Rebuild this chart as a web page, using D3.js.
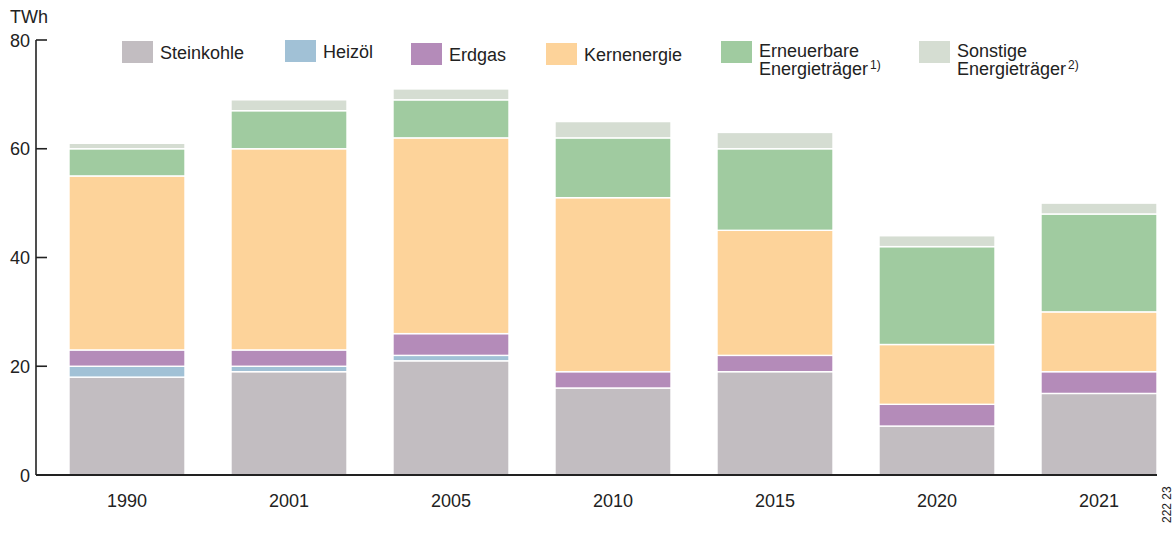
<!DOCTYPE html>
<html>
<head>
<meta charset="utf-8">
<script src="https://cdn.jsdelivr.net/npm/d3@7"></script>
<style>
  body { margin: 0; background: #fff; }
  text { font-family: "Liberation Sans", Arial, sans-serif; fill: #222; }
</style>
</head>
<body>
<div class="chart"></div>
<script>
// data
var years = ["1990", "2001", "2005", "2010", "2015", "2020", "2021"];
var carriers = ["Steinkohle", "Heizöl", "Erdgas", "Kernenergie", "Erneuerbare", "Sonstige"];
var steinkohle = [18, 19, 21, 16, 19, 9, 15];
var heizoel = [2, 1, 1, 0, 0, 0, 0];
var erdgas = [3, 3, 4, 3, 3, 4, 4];
var kernenergie = [32, 37, 36, 32, 23, 11, 11];
var erneuerbare = [5, 7, 7, 11, 15, 18, 18];
var sonstige = [1, 2, 2, 3, 3, 2, 2];
var yTicks = [0, 20, 40, 60, 80];
var colors = ["#c2bdc1", "#a1c1d6", "#b48bb9", "#fdd39a", "#a0cba0", "#d5ddd2"];

const mainGraphic = () => {
    var width = 1174,
        height = 534;

    var margin = { top: 40, right: 17, bottom: 59, left: 36 };

    var svg = d3.select(".chart")
        .append("svg")
        .attr("width", width)
        .attr("height", height);

    var table = years.map(function(y, i) {
        return {
            year: y,
            Steinkohle: steinkohle[i],
            "Heizöl": heizoel[i],
            Erdgas: erdgas[i],
            Kernenergie: kernenergie[i],
            Erneuerbare: erneuerbare[i],
            Sonstige: sonstige[i]
        };
    });

    var series = d3.stack().keys(carriers)(table);

    var x = d3.scaleBand()
        .domain(years)
        .range([69, 1157])
        .paddingInner(0.284)
        .paddingOuter(0);

    var y = d3.scaleLinear()
        .domain([0, 80])
        .range([height - margin.bottom, margin.top]);

    var color = d3.scaleOrdinal()
        .domain(carriers)
        .range(colors);

    // bars
    svg.append("g")
        .selectAll("g")
        .data(series)
        .enter().append("g")
        .attr("fill", function(d) { return color(d.key); })
        .selectAll("rect")
        .data(function(d) { return d.filter(function(e) { return e[1] - e[0] > 0; }); })
        .enter().append("rect")
        .attr("x", function(d) { return x(d.data.year); })
        .attr("y", function(d) { return y(d[1]); })
        .attr("width", x.bandwidth())
        .attr("height", function(d) { return y(d[0]) - y(d[1]); })
        .style("stroke", "#fff")
        .style("stroke-width", 1.4);

    // y axis
    var yAxis = svg.append("g")
        .attr("transform", "translate(" + margin.left + ",0)");
    yAxis.append("line")
        .attr("y1", y(80)).attr("y2", y(0))
        .attr("stroke", "#222").attr("stroke-width", 1.6);
    yAxis.selectAll(".tick")
        .data(yTicks)
        .enter().append("line")
        .attr("x1", 0).attr("x2", 11)
        .attr("y1", function(d) { return y(d); })
        .attr("y2", function(d) { return y(d); })
        .attr("stroke", "#222").attr("stroke-width", 1.6);
    yAxis.selectAll(".lbl")
        .data(yTicks)
        .enter().append("text")
        .attr("x", -6)
        .attr("y", function(d) { return y(d) + 6.5; })
        .attr("text-anchor", "end")
        .style("font-size", "18px")
        .text(function(d) { return d; });

    svg.append("text")
        .attr("x", 10).attr("y", 23)
        .style("font-size", "18px")
        .text("TWh");

    // x axis
    svg.append("line")
        .attr("x1", margin.left).attr("x2", 1157)
        .attr("y1", y(0)).attr("y2", y(0))
        .attr("stroke", "#222").attr("stroke-width", 2);

    svg.selectAll(".xlbl")
        .data(years)
        .enter().append("text")
        .attr("x", function(d) { return x(d) + x.bandwidth() / 2; })
        .attr("y", 507)
        .attr("text-anchor", "middle")
        .style("font-size", "18px")
        .text(function(d) { return d; });

    // legend
    var legendX = [122, 285, 411, 546, 721, 919];
    var legendDy = [0, -1, 2, 2, 0, 0];
    var legendLabels = [
        ["Steinkohle"], ["Heizöl"], ["Erdgas"], ["Kernenergie"],
        ["Erneuerbare", "Energieträger", "1)"], ["Sonstige", "Energieträger", "2)"]
    ];

    var legend = svg.append("g").attr("class", "legend");
    carriers.forEach(function(c, i) {
        var g = legend.append("g")
            .attr("transform", "translate(" + legendX[i] + "," + legendDy[i] + ")");
        g.append("rect")
            .attr("x", 0).attr("y", 41)
            .attr("width", 31).attr("height", 22)
            .attr("fill", color(c));
        var lbl = legendLabels[i];
        g.append("text")
            .attr("x", 38).attr("y", 59)
            .style("font-size", "18px")
            .text(lbl[0]);
        if (lbl.length > 1) {
            g.select("text").attr("y", 57);
            var t = g.append("text")
                .attr("x", 38).attr("y", 75)
                .style("font-size", "18px");
            t.append("tspan").text(lbl[1]);
            t.append("tspan")
                .attr("dx", 2)
                .attr("dy", -6)
                .style("font-size", "12px")
                .text(lbl[2]);
        }
    });

    // figure number
    svg.append("text")
        .attr("transform", "translate(1171,523) rotate(-90)")
        .style("font-size", "12px")
        .text("222 23");
}

mainGraphic();
</script>
</body>
</html>
